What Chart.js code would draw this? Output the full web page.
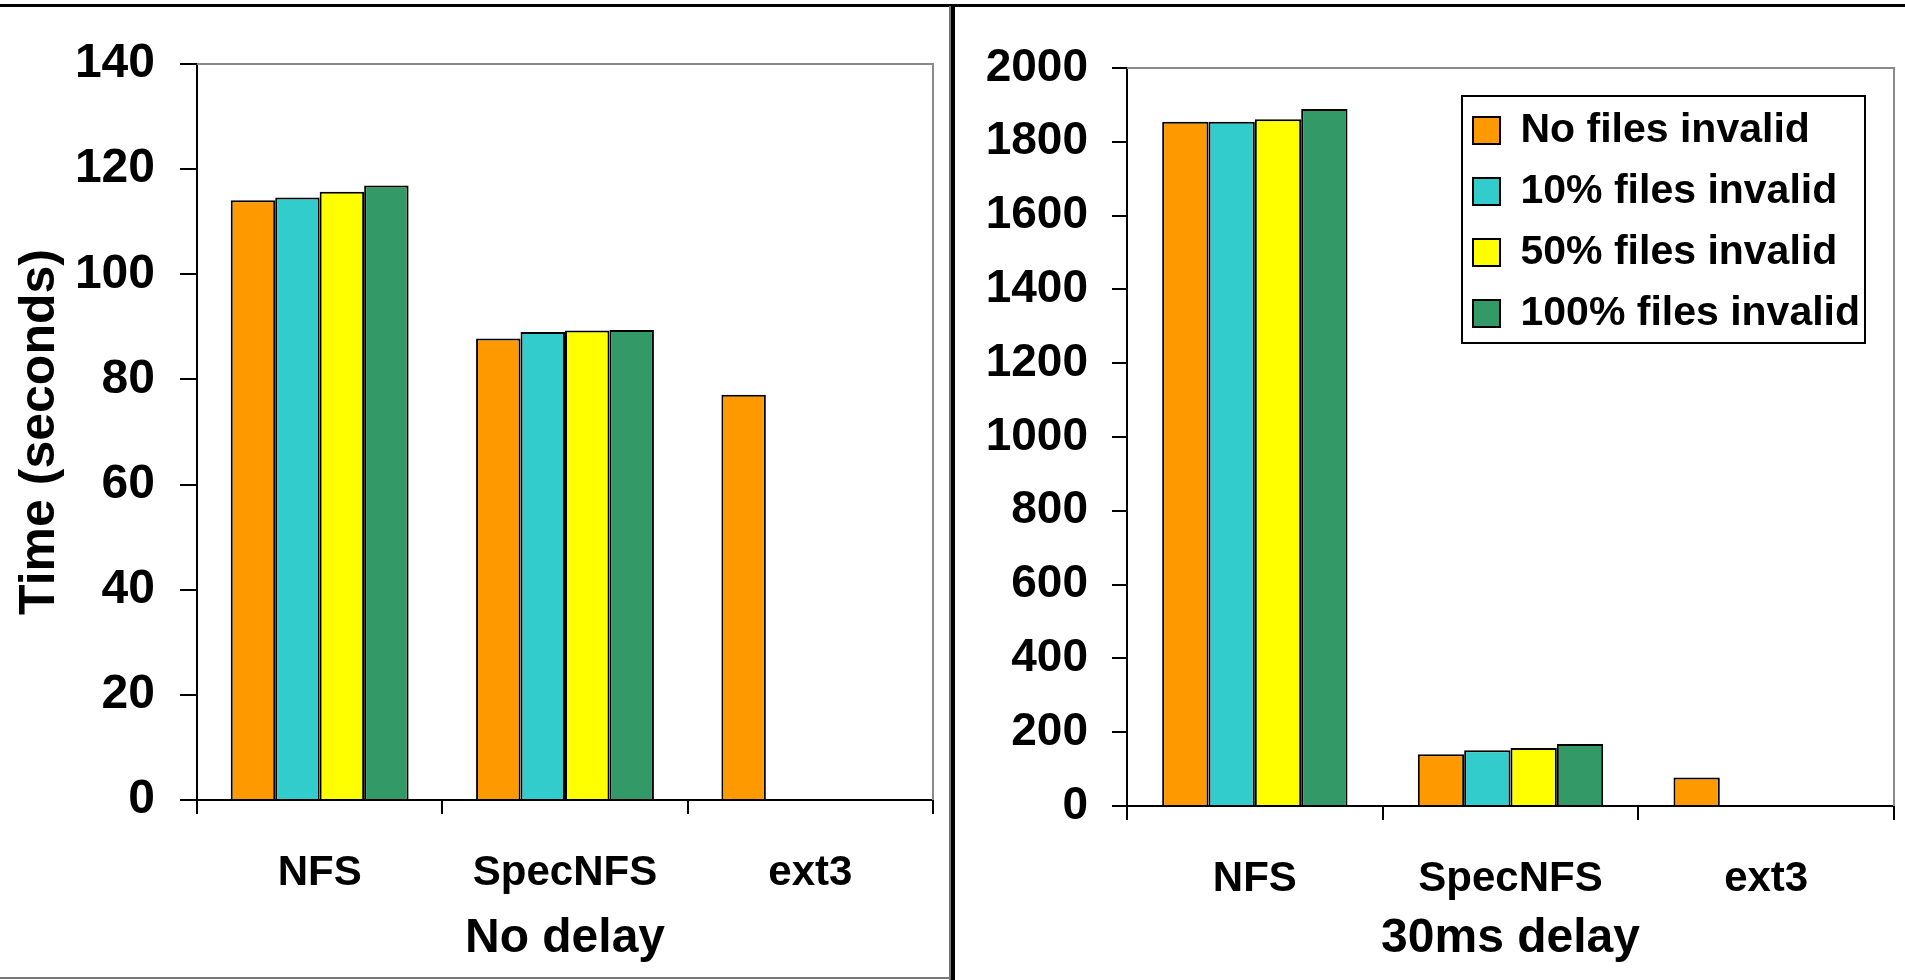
<!DOCTYPE html>
<html>
<head>
<meta charset="utf-8">
<script src="https://cdn.jsdelivr.net/npm/chart.js@4/dist/chart.umd.min.js"></script>
<style>
  body { margin: 0; background: #fff; }
  #page { position: relative; width: 1905px; height: 980px; overflow: hidden; background: #fff; }
  .box { position: absolute; }
  .line { position: absolute; z-index: 5; }
</style>
</head>
<body>
<div id="page">
  <div class="box" style="left:0;top:0;width:951px;height:978px"><canvas id="noDelay"></canvas></div>
  <div class="box" style="left:955px;top:0;width:950px;height:980px"><canvas id="delay30"></canvas></div>
  <div class="line" style="left:0;top:4px;width:1905px;height:3px;background:#000"></div>
  <div class="line" style="left:951px;top:4px;width:4px;height:976px;background:#000"></div>
  <div class="line" style="left:949px;top:6px;width:2px;height:974px;background:#777"></div>
  <div class="line" style="left:0;top:977px;width:951px;height:2px;background:#777"></div>
</div>
<script>
'use strict';

// categories and series
const categories = ['NFS', 'SpecNFS', 'ext3'];
const seriesNames = ['No files invalid', '10% files invalid', '50% files invalid', '100% files invalid'];
const seriesColors = ['#FF9900', '#33CCCC', '#FFFF00', '#339966'];

// No delay (seconds)
const noDelayNone = [114.1, 87.8, 77.1];
const noDelayTen = [114.6, 89.0, null];
const noDelayFifty = [115.7, 89.3, null];
const noDelayAll = [116.9, 89.4, null];

// 30ms delay (seconds)
const delayNone = [1854, 140, 77];
const delayTen = [1854, 151, null];
const delayFifty = [1861, 157, null];
const delayAll = [1889, 168, null];

// axis ticks
const noDelayTicks = { min: 0, max: 140, step: 20 };
const delayTicks = { min: 0, max: 2000, step: 200 };

Chart.defaults.font.family = "'Liberation Sans', Arial, sans-serif";
Chart.defaults.font.weight = 'bold';
Chart.defaults.color = '#000';

function makeSets(values) {
  return values.map((v, i) => ({
    label: seriesNames[i],
    data: v,
    backgroundColor: seriesColors[i],
    borderColor: '#000',
    borderWidth: 2,
    categoryPercentage: 0.725,
    barPercentage: 1.0
  }));
}

// gray top/right border of the plot area
const plotFrame = {
  id: 'plotFrame',
  beforeDatasetsDraw(chart) {
    const { ctx, chartArea: a } = chart;
    ctx.save();
    ctx.strokeStyle = '#8a8a8a';
    ctx.lineWidth = 2;
    ctx.beginPath();
    ctx.moveTo(a.left, a.top);
    ctx.lineTo(a.right, a.top);
    ctx.lineTo(a.right, a.bottom);
    ctx.stroke();
    ctx.restore();
  }
};

// move legend into the top right of the plot and box it
const legendBox = {
  id: 'legendBox',
  afterLayout(chart) {
    const lg = chart.legend, a = chart.chartArea;
    const pad = lg.options.labels.padding;
    const w = 403, h = 247;
    const fx = a.right - 29 - w, fy = a.top + 28;
    chart.$frame = { x: fx, y: fy, w: w, h: h };
    lg.left = fx + 11 - pad;
    lg.top = fy + 14 - pad;
    lg.right = fx + w;
    lg.bottom = a.bottom;
    lg.width = lg.right - lg.left;
    lg.height = lg.bottom - lg.top;
  },
  afterDraw(chart) {
    const f = chart.$frame, ctx = chart.ctx;
    ctx.save();
    ctx.strokeStyle = '#000';
    ctx.lineWidth = 2;
    ctx.strokeRect(f.x, f.y, f.w, f.h);
    ctx.restore();
  }
};

function axes(t, o) {
  return {
    x: {
      afterFit(s) { s.height = o.xHeight; },
      grid: { offset: true, drawOnChartArea: false, color: '#000', lineWidth: 2, tickLength: 14 },
      border: { color: '#000', width: 2 },
      ticks: { font: { size: 42, weight: 'bold' }, padding: 34, color: '#000' },
      title: { display: true, text: o.xTitle, font: { size: 48, weight: 'bold' }, color: '#000', padding: { top: 0, bottom: o.titleBottom } }
    },
    y: {
      min: t.min, max: t.max,
      afterFit(s) { s.width = o.yWidth; },
      grid: { drawOnChartArea: false, color: '#000', lineWidth: 2, tickLength: o.tickLen },
      border: { color: '#000', width: 2 },
      ticks: {
        stepSize: t.step,
        callback: (v) => String(v),
        font: { size: o.tickSize, weight: 'bold' },
        padding: o.tickPad,
        color: '#000'
      },
      title: { display: !!o.yTitle, text: o.yTitle, font: { size: 50, weight: 'bold' }, color: '#000', padding: { top: 10, bottom: 0 } }
    }
  };
}

new Chart(document.getElementById('noDelay'), {
  type: 'bar',
  data: { labels: categories, datasets: makeSets([noDelayNone, noDelayTen, noDelayFifty, noDelayAll]) },
  options: {
    responsive: true,
    maintainAspectRatio: false,
    animation: false,
    layout: { padding: { left: 0, top: 64, right: 18, bottom: 0 } },
    plugins: { legend: { display: false }, tooltip: { enabled: false } },
    scales: axes(noDelayTicks, { xHeight: 178, yWidth: 197, tickLen: 17, tickPad: 25, tickSize: 48, xTitle: 'No delay', titleBottom: 10, yTitle: 'Time (seconds)' })
  },
  plugins: [plotFrame]
});

new Chart(document.getElementById('delay30'), {
  type: 'bar',
  data: { labels: categories, datasets: makeSets([delayNone, delayTen, delayFifty, delayAll]) },
  options: {
    responsive: true,
    maintainAspectRatio: false,
    animation: false,
    layout: { padding: { left: 0, top: 68, right: 11, bottom: 0 } },
    plugins: {
      legend: {
        position: 'chartArea',
        align: 'start',
        labels: { boxWidth: 27, boxHeight: 27, padding: 20, color: '#000', font: { size: 41, weight: 'bold' } }
      },
      tooltip: { enabled: false }
    },
    scales: axes(delayTicks, { xHeight: 174, yWidth: 172, tickLen: 15, tickPad: 24, tickSize: 46, xTitle: '30ms delay', titleBottom: 12, yTitle: '' })
  },
  plugins: [plotFrame, legendBox]
});
</script>
</body>
</html>
